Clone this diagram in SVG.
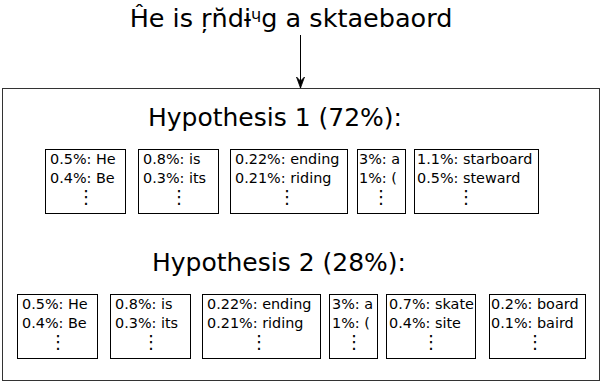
<svg xmlns="http://www.w3.org/2000/svg" width="602" height="382" viewBox="0 0 602 382">
<defs>
<marker id="arr" markerWidth="12" markerHeight="10" refX="11" refY="5" orient="auto" markerUnits="userSpaceOnUse">
<path d="M0,1 L11,5 L0,9 L4,5 Z" fill="#000" stroke="#000" stroke-width="0.8"/>
</marker>
<style>
text{font-family:"DejaVu Sans","Noto Sans",sans-serif;fill:#000}
.big{font-size:25px}
.t{font-size:14.4px}
.d{font-size:18px;text-anchor:middle;font-family:"DejaVu Sans",sans-serif}
.box{fill:#fff;stroke:#000;stroke-width:1}
</style>
</defs>
<rect width="602" height="382" fill="#fff"/>
<g id="input"><text x="291" y="27" text-anchor="middle" style="font-size:25.5px">Ĥe is ŗn̆dɨᶣg a sktaebaord</text></g>
<g id="container"><rect x="2.5" y="88.5" width="597" height="292" fill="none" stroke="#333" stroke-width="1"/></g>
<g id="connectors"><line x1="300.5" y1="35" x2="300.5" y2="88" stroke="#000" stroke-width="1" marker-end="url(#arr)"/></g>
<g id="h1title"><text class="big" x="275" y="126" text-anchor="middle">Hypothesis 1 (72%):</text></g>
<g id="h2title"><text class="big" x="279" y="271" text-anchor="middle">Hypothesis 2 (28%):</text></g>
<g id="h1n1"><rect class="box" x="45.5" y="149.5" width="80" height="64"/><text class="t" x="50" y="164">0.5%: He</text><text class="t" x="50" y="183">0.4%: Be</text><text class="d" x="86" y="203">⋮</text></g>
<g id="h1n2"><rect class="box" x="138.5" y="149.5" width="80" height="64"/><text class="t" x="143" y="164">0.8%: is</text><text class="t" x="143" y="183">0.3%: its</text><text class="d" x="179" y="203">⋮</text></g>
<g id="h1n3"><rect class="box" x="230.5" y="149.5" width="117" height="64"/><text class="t" x="235" y="164">0.22%: ending</text><text class="t" x="235" y="183">0.21%: riding</text><text class="d" x="287" y="203">⋮</text></g>
<g id="h1n4"><rect class="box" x="357.5" y="149.5" width="48" height="64"/><text class="t" x="359" y="164">3%: a</text><text class="t" x="359" y="183">1%: (</text><text class="d" x="381" y="203">⋮</text></g>
<g id="h1n5"><rect class="box" x="414.5" y="149.5" width="124" height="64"/><text class="t" x="417" y="164">1.1%: starboard</text><text class="t" x="417" y="183">0.5%: steward</text><text class="d" x="466" y="203">⋮</text></g>
<g id="h2n1"><rect class="box" x="17.5" y="294.5" width="80" height="64"/><text class="t" x="22" y="309">0.5%: He</text><text class="t" x="22" y="328">0.4%: Be</text><text class="d" x="58" y="348">⋮</text></g>
<g id="h2n2"><rect class="box" x="110.5" y="294.5" width="80" height="64"/><text class="t" x="115" y="309">0.8%: is</text><text class="t" x="115" y="328">0.3%: its</text><text class="d" x="151" y="348">⋮</text></g>
<g id="h2n3"><rect class="box" x="202.5" y="294.5" width="118" height="64"/><text class="t" x="207" y="309">0.22%: ending</text><text class="t" x="207" y="328">0.21%: riding</text><text class="d" x="259" y="348">⋮</text></g>
<g id="h2n4"><rect class="box" x="329.5" y="294.5" width="48" height="64"/><text class="t" x="332" y="309">3%: a</text><text class="t" x="332" y="328">1%: (</text><text class="d" x="354" y="348">⋮</text></g>
<g id="h2n5"><rect class="box" x="386.5" y="294.5" width="89" height="64"/><text class="t" x="389" y="309">0.7%: skate</text><text class="t" x="389" y="328">0.4%: site</text><text class="d" x="431" y="348">⋮</text></g>
<g id="h2n6"><rect class="box" x="489.5" y="294.5" width="96" height="64"/><text class="t" x="491" y="309">0.2%: board</text><text class="t" x="491" y="328">0.1%: baird</text><text class="d" x="535" y="348">⋮</text></g>
</svg>
